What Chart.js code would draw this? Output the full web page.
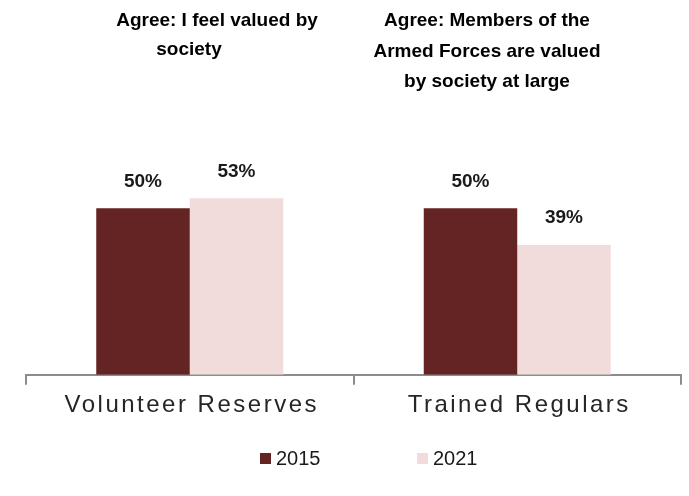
<!DOCTYPE html>
<html>
<head>
<meta charset="utf-8">
<script src="https://cdn.jsdelivr.net/npm/chart.js@4"></script>
<style>
  html, body { margin: 0; padding: 0; background: #fff; }
  #wrap { width: 689px; height: 496px; }
</style>
</head>
<body>
<div id="wrap"><canvas id="barras"></canvas></div>
<script>
const categorias = ['Volunteer Reserves', 'Trained Regulars'];
const anos = ['2015', '2021'];
const valores2015 = [50, 50];
const valores2021 = [53, 39];
const cores = ['#632423', '#F2DCDB'];
const titulos = [
  ['Agree: I feel valued by', 'society'],
  ['Agree: Members of the', 'Armed Forces are valued', 'by society at large']
];

// titulos, rotulos do eixo, valores e legenda
const textos = {
  id: 'textos',
  afterDraw(chart) {
    const ctx = chart.ctx;
    const x = chart.scales.x;
    const area = chart.chartArea;
    ctx.save();
    ctx.textAlign = 'center';
    ctx.textBaseline = 'middle';

    // valores
    ctx.font = 'bold 19px Arial, "Liberation Sans"';
    ctx.fillStyle = '#1a1a1a';
    chart.data.datasets.forEach((ds, i) => {
      chart.getDatasetMeta(i).data.forEach((bar, j) => {
        ctx.fillText(ds.data[j] + '%', bar.x, bar.y - 27);
      });
    });

    // rotulos das categorias (com espacamento)
    ctx.font = '24px Arial, "Liberation Sans"';
    ctx.fillStyle = '#262626';
    ctx.letterSpacing = '2.5px';
    categorias.forEach((c, i) => {
      ctx.fillText(c, x.getPixelForValue(i) + 2, area.bottom + 31);
    });
    ctx.letterSpacing = '0px';

    // titulos
    ctx.font = 'bold 19px Arial, "Liberation Sans"';
    ctx.fillStyle = '#000';
    const cx = [[217, 189], [487, 487, 487]];
    const cy = [[21, 50], [21, 52, 82]];
    titulos.forEach((linhas, i) => {
      linhas.forEach((l, k) => ctx.fillText(l, cx[i][k], cy[i][k]));
    });

    // legenda
    ctx.font = '20px Arial, "Liberation Sans"';
    ctx.textAlign = 'left';
    const lx = [260, 417];
    anos.forEach((a, i) => {
      ctx.fillStyle = cores[i];
      ctx.fillRect(lx[i], 453, 11, 11);
      ctx.fillStyle = '#1a1a1a';
      ctx.fillText(a, lx[i] + 16, 459);
    });
    ctx.restore();
  }
};

new Chart(document.getElementById('barras'), {
  type: 'bar',
  data: {
    labels: categorias,
    datasets: [
      { label: anos[0], data: valores2015, backgroundColor: cores[0] },
      { label: anos[1], data: valores2021, backgroundColor: cores[1] }
    ]
  },
  options: {
    responsive: true,
    maintainAspectRatio: false,
    animation: false,
    layout: { padding: { top: 175, left: 26, right: 8, bottom: 66 } },
    datasets: { bar: { categoryPercentage: 0.571, barPercentage: 1 } },
    scales: {
      y: { display: false, min: 0, max: 60 },
      x: {
        grid: { offset: true, drawOnChartArea: false, drawTicks: true, tickLength: 10, color: '#8c8c8c', lineWidth: 2 },
        border: { display: true, color: '#8c8c8c', width: 2 },
        ticks: { color: 'rgba(0,0,0,0)', font: { size: 21, family: 'Arial' }, padding: 10 }
      }
    },
    plugins: {
      tooltip: { enabled: false },
      legend: { display: false }
    }
  },
  plugins: [textos]
});
</script>
</body>
</html>
